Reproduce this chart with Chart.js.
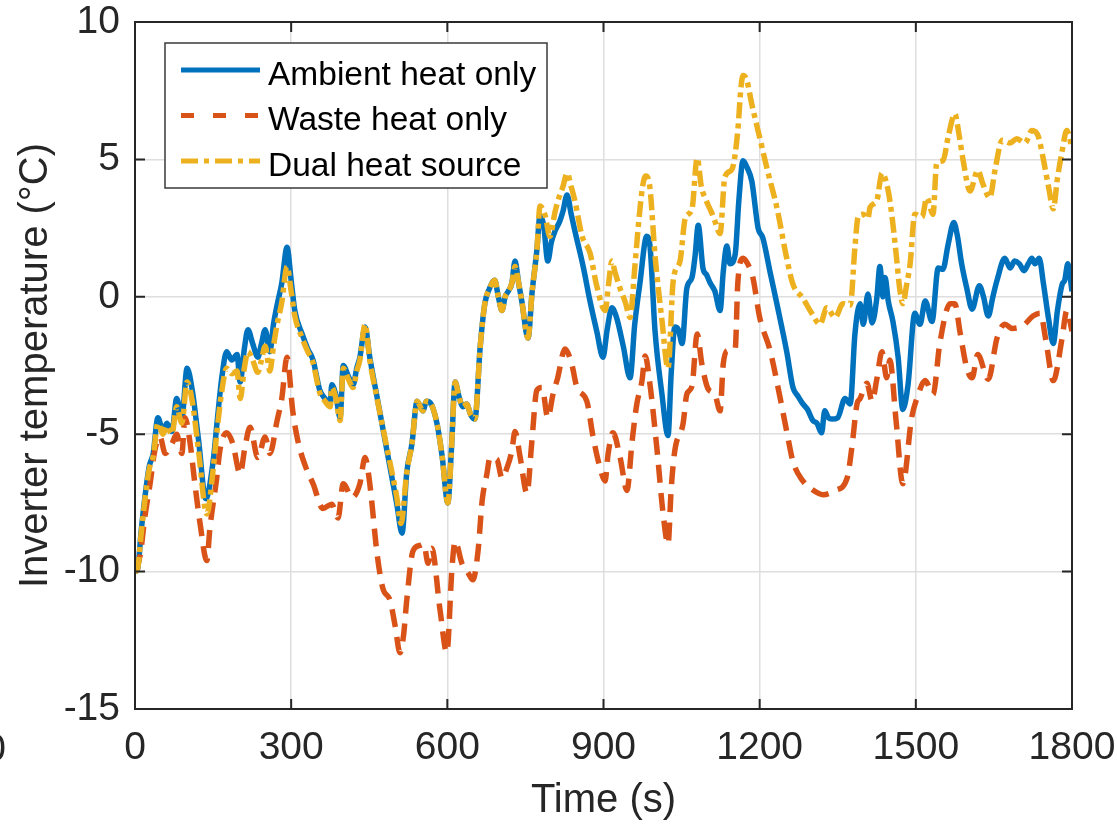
<!DOCTYPE html>
<html>
<head>
<meta charset="utf-8">
<script src="https://cdn.jsdelivr.net/npm/chart.js@4.4.1/dist/chart.umd.min.js"></script>
<style>
  html, body { margin: 0; padding: 0; background: #ffffff; }
  #wrap { width: 1117px; height: 827px; position: relative; }
</style>
</head>
<body>
<div id="wrap"><canvas id="c" width="1117" height="827"></canvas></div>
<script>
// ---- Series data: time (s) and inverter temperature (°C) ----
const ambientTime = [0,5,12,19,27,35,44,54,61,71,80,90,100,110,122,136,150,158,167,176,186,196,202,210,217,226,236,243,250,259,266,273,282,292,300,307,321,332,342,355,365,375,378,386,394,400,410,419,426,432,442,451,465,484,503,513,522,532,542,553,560,567,580,590,601,608,615,622,630,637,645,653,663,672,681,691,698,705,711,717,724,730,737,743,755,763,772,778,785,793,800,807,816,822,830,838,845,861,874,887,899,907,916,925,938,951,960,970,983,989,999,1012,1024,1030,1037,1044,1051,1060,1070,1076,1082,1091,1098,1105,1114,1124,1130,1137,1143,1153,1160,1168,1176,1185,1197,1206,1220,1233,1252,1264,1273,1283,1292,1302,1310,1319,1325,1332,1339,1350,1364,1374,1383,1393,1399,1408,1416,1425,1431,1437,1441,1447,1456,1466,1475,1485,1498,1508,1518,1531,1543,1552,1562,1573,1580,1588,1598,1608,1622,1630,1639,1648,1656,1671,1681,1690,1699,1708,1716,1723,1729,1737,1745,1755,1764,1772,1781,1786,1792,1800];
const ambientTemp = [-10.0,-9.9,-8.5,-7.3,-6.2,-5.7,-4.4,-4.9,-4.6,-4.9,-3.7,-4.4,-2.6,-3.4,-5.2,-7.35,-6.0,-4.5,-2.9,-2.0,-2.3,-2.1,-3.1,-1.9,-1.2,-1.7,-2.2,-1.7,-1.2,-2.0,-1.0,-0.3,0.5,1.8,0.6,-0.5,-1.35,-1.9,-2.3,-3.4,-3.7,-3.9,-3.2,-3.6,-4.4,-2.5,-2.9,-3.2,-2.6,-2.2,-1.1,-2.2,-3.65,-5.6,-7.55,-8.6,-6.4,-5.35,-3.8,-4.15,-3.8,-3.85,-4.6,-5.8,-7.5,-5.5,-3.1,-3.6,-4.0,-3.9,-4.3,-4.45,-1.85,-0.25,0.3,0.6,0.0,-0.5,0.0,0.2,0.5,1.3,0.5,-0.15,-1.5,0.2,1.7,2.95,2.6,1.3,2.0,2.4,2.75,3.1,3.7,3.0,2.4,1.1,-0.15,-1.25,-2.2,-1.2,-0.4,-0.75,-1.8,-2.95,-1.0,0.5,2.2,1.9,-1.25,-3.5,-5.05,-2.8,-1.1,-1.2,-1.7,0.3,0.7,1.5,2.6,1.05,0.8,0.5,0.2,-0.5,0.9,1.85,1.2,1.55,3.5,4.95,4.7,4.2,2.5,2.15,0.9,-0.25,-2.0,-3.3,-3.6,-3.9,-4.1,-4.5,-4.6,-4.95,-4.15,-4.4,-4.45,-4.4,-3.7,-3.9,-1.35,-0.25,-1.0,0.1,-0.95,-0.05,1.1,0.0,0.7,-0.15,-0.9,-2.2,-4.1,-3.2,-0.6,-1.0,-0.15,-0.9,1.05,1.0,1.9,2.7,2.2,1.2,0.3,-0.45,0.4,0.0,-0.7,0.0,0.6,1.4,1.05,1.3,1.2,0.95,1.2,1.4,1.2,1.4,0.5,-0.8,-1.7,-0.5,0.45,0.6,1.2,0.2];

const wasteTime = [0,10,19,29,38,48,58,71,80,90,96,106,115,125,138,144,157,163,176,188,202,211,221,236,250,259,273,282,292,303,313,330,342,361,378,390,400,417,432,442,451,465,476,490,500,509,516,522,534,547,555,563,570,586,599,609,615,628,640,649,659,667,676,682,695,705,715,724,730,740,753,762,772,782,793,803,812,826,839,849,868,880,893,903,909,918,932,945,955,964,974,980,989,1003,1014,1024,1030,1037,1053,1060,1070,1080,1089,1101,1114,1124,1130,1139,1153,1158,1168,1177,1187,1200,1220,1239,1252,1264,1283,1300,1322,1345,1368,1377,1387,1393,1406,1416,1425,1435,1444,1450,1462,1475,1492,1502,1518,1533,1546,1566,1575,1585,1598,1608,1619,1639,1656,1671,1685,1706,1725,1739,1750,1764,1781,1790,1800];
const wasteTemp = [-10.0,-9.4,-8.0,-6.8,-5.6,-5.1,-5.7,-5.35,-5.0,-5.7,-4.4,-5.35,-6.8,-8.25,-9.6,-8.4,-6.6,-5.6,-4.95,-5.35,-6.45,-5.5,-4.75,-5.85,-5.1,-5.7,-4.5,-3.7,-2.2,-4.15,-5.25,-6.3,-6.8,-7.7,-7.55,-8.05,-6.8,-7.3,-6.8,-5.85,-6.8,-9.35,-10.6,-11.05,-12.0,-12.95,-12.3,-11.05,-9.25,-9.05,-9.0,-9.7,-9.15,-11.4,-12.95,-9.85,-8.9,-9.7,-10.05,-10.3,-9.25,-7.4,-6.45,-5.85,-5.9,-6.6,-6.2,-5.6,-4.9,-5.85,-7.15,-5.35,-3.4,-3.3,-4.4,-3.55,-2.95,-1.9,-2.45,-3.3,-3.8,-5.1,-6.2,-6.7,-5.7,-4.95,-5.85,-7.05,-5.25,-3.9,-3.05,-2.15,-3.15,-5.6,-7.8,-9.0,-7.0,-5.6,-4.6,-3.55,-3.25,-1.35,-2.45,-3.35,-3.55,-4.15,-2.45,-1.95,-1.9,0.5,1.4,1.2,0.7,-0.75,-1.95,-3.65,-4.9,-6.0,-6.7,-7.0,-7.2,-7.05,-6.6,-5.5,-3.9,-3.7,-3.15,-3.8,-3.0,-2.0,-2.95,-2.3,-4.5,-6.8,-4.4,-3.7,-3.05,-3.55,-1.7,-0.25,-0.25,-1.3,-2.6,-2.95,-2.1,-3.0,-1.5,-1.0,-1.15,-1.05,-0.7,-0.6,-1.6,-3.05,-1.5,-0.5,-1.25];

const dualTime = [0,5,12,19,27,35,44,54,61,71,80,90,100,110,122,138,150,158,167,176,186,196,202,210,217,226,236,243,250,259,266,273,282,292,300,307,321,332,342,355,365,375,378,386,394,400,410,419,426,432,442,451,465,484,503,511,522,532,542,553,560,567,580,590,601,608,615,622,630,637,645,653,663,672,681,691,698,705,711,717,724,730,737,743,755,763,772,778,788,797,807,816,822,830,838,845,859,874,887,903,910,916,922,932,942,951,960,968,975,981,989,999,1012,1024,1034,1047,1057,1070,1080,1088,1095,1108,1114,1124,1133,1147,1158,1164,1168,1175,1185,1200,1215,1233,1252,1264,1283,1300,1316,1329,1345,1360,1374,1383,1389,1399,1408,1412,1425,1435,1447,1455,1463,1469,1475,1482,1489,1498,1512,1521,1533,1540,1552,1563,1575,1583,1591,1604,1619,1629,1642,1652,1666,1681,1694,1710,1723,1735,1745,1755,1764,1772,1781,1790,1800];
const dualTemp = [-10.0,-9.9,-8.6,-7.4,-6.3,-5.8,-4.6,-5.0,-4.7,-5.0,-4.0,-4.6,-3.1,-3.8,-5.6,-7.9,-6.3,-4.8,-3.4,-2.6,-2.8,-2.7,-3.7,-2.6,-2.0,-2.3,-2.75,-2.3,-1.8,-2.7,-1.8,-1.0,-0.2,1.1,0.2,-0.7,-1.5,-2.0,-2.4,-3.5,-3.8,-4.0,-3.3,-3.7,-4.5,-2.6,-3.0,-3.3,-2.7,-2.3,-1.0,-2.3,-3.7,-5.5,-7.3,-8.25,-6.4,-5.35,-3.8,-4.15,-3.8,-3.85,-4.6,-5.8,-7.5,-5.5,-3.1,-3.6,-4.0,-3.9,-4.3,-4.45,-1.85,-0.25,0.3,0.6,0.0,-0.5,0.0,0.2,0.5,1.1,0.5,-0.15,-1.5,0.2,1.7,3.3,2.95,2.2,3.1,3.7,4.0,4.5,4.0,3.5,2.2,1.6,0.4,-0.5,0.5,1.3,0.9,0.3,-0.2,-0.75,1.05,2.8,4.0,4.4,4.0,1.5,-0.8,-2.6,0.6,1.3,2.85,3.2,5.05,4.0,3.6,3.05,2.75,2.3,4.35,4.65,6.05,7.6,8.05,7.9,7.0,5.8,4.6,3.25,1.4,0.45,-0.05,-0.6,-1.0,-0.4,-0.75,-0.25,-0.3,1.8,2.9,3.0,2.85,3.25,3.5,4.5,3.85,2.8,1.4,0.3,-0.25,0.4,1.2,3.0,2.9,3.6,3.0,4.85,4.95,5.9,6.65,5.9,4.95,3.85,4.6,4.1,3.6,4.6,5.7,5.6,5.75,5.6,6.05,5.85,5.0,4.0,3.2,4.3,5.3,6.05,5.4];

// ---- Axis ticks and labels ----
const xTicks = [0, 300, 600, 900, 1200, 1500, 1800];
const yTicks = [-15, -10, -5, 0, 5, 10];
const seriesNames = ['Ambient heat only', 'Waste heat only', 'Dual heat source'];
const xTitle = 'Time (s)';
const yTitle = 'Inverter temperature (°C)';

const FONT = "'Liberation Sans', Arial, Helvetica, sans-serif";
const AXIS_COLOR = '#262626';
const seriesColors = ['#0072BD', '#D95319', '#EDB120'];
const plotDash = [[], [18, 10], [16, 5, 5, 5]];
const legendDash = [[], [13, 19], [17, 6, 5, 6]];

const toPoints = (ts, vs) => ts.map((t, i) => ({ x: t, y: vs[i] }));

// Box around the plot area with inward tick marks on all four sides,
// an in-axes legend and a stray clipped tick label at the lower left.
const framePlugin = {
  id: 'frame',
  afterDraw(chart) {
    const { ctx, chartArea: a, scales } = chart;
    const xs = scales.x, ys = scales.y;
    ctx.save();
    ctx.strokeStyle = AXIS_COLOR;
    ctx.lineWidth = 2;
    ctx.lineCap = 'butt';
    ctx.setLineDash([]);
    ctx.strokeRect(a.left, a.top, a.right - a.left, a.bottom - a.top);
    const tl = 10;
    ctx.beginPath();
    xTicks.forEach(v => {
      const px = xs.getPixelForValue(v);
      ctx.moveTo(px, a.bottom); ctx.lineTo(px, a.bottom - tl);
      ctx.moveTo(px, a.top); ctx.lineTo(px, a.top + tl);
    });
    yTicks.forEach(v => {
      const py = ys.getPixelForValue(v);
      ctx.moveTo(a.left, py); ctx.lineTo(a.left + tl, py);
      ctx.moveTo(a.right, py); ctx.lineTo(a.right - tl, py);
    });
    ctx.stroke();

    // stray tick text clipped at the left canvas edge
    ctx.fillStyle = AXIS_COLOR;
    ctx.font = `39px ${FONT}`;
    ctx.textAlign = 'right';
    ctx.textBaseline = 'alphabetic';
    ctx.fillText('-300', 6, 761);

    // legend
    const bx = 165, by = 43, bw = 382, bh = 145;
    ctx.fillStyle = '#ffffff';
    ctx.fillRect(bx, by, bw, bh);
    ctx.strokeStyle = '#3a3a3a';
    ctx.lineWidth = 1.5;
    ctx.strokeRect(bx, by, bw, bh);
    ctx.font = `33.5px ${FONT}`;
    ctx.textAlign = 'left';
    chart.data.datasets.forEach((ds, i) => {
      const cy = 70 + i * 45.5;
      ctx.strokeStyle = ds.borderColor;
      ctx.lineWidth = 5;
      ctx.setLineDash(legendDash[i]);
      ctx.beginPath();
      ctx.moveTo(181, cy);
      ctx.lineTo(260, cy);
      ctx.stroke();
      ctx.setLineDash([]);
      ctx.fillStyle = '#000000';
      ctx.fillText(ds.label, 268, cy + 14.5);
    });
    ctx.restore();
  }
};

const ds = (i, ts, vs, order) => ({
  label: seriesNames[i],
  data: toPoints(ts, vs),
  borderColor: seriesColors[i],
  backgroundColor: seriesColors[i],
  borderWidth: 5.5,
  borderDash: plotDash[i],
  borderCapStyle: 'butt',
  borderJoinStyle: 'round',
  pointRadius: 0,
  pointHoverRadius: 0,
  cubicInterpolationMode: 'monotone',
  fill: false,
  order: order
});

new Chart(document.getElementById('c'), {
  type: 'line',
  data: {
    datasets: [
      ds(0, ambientTime, ambientTemp, 3),
      ds(1, wasteTime, wasteTemp, 2),
      ds(2, dualTime, dualTemp, 1)
    ]
  },
  options: {
    responsive: false,
    animation: false,
    devicePixelRatio: 1,
    layout: { padding: { top: 22, right: 45, left: 0, bottom: 0 } },
    plugins: { legend: { display: false }, tooltip: { enabled: false } },
    scales: {
      x: {
        type: 'linear',
        min: 0, max: 1800,
        afterBuildTicks: s => { s.ticks = xTicks.map(v => ({ value: v })); },
        afterFit: s => { s.height = 118; s.paddingLeft = 0; s.paddingRight = 0; },
        ticks: {
          autoSkip: false, maxRotation: 0, padding: 16,
          color: AXIS_COLOR, font: { family: FONT, size: 39 },
          callback: v => String(v)
        },
        grid: { color: '#dedede', lineWidth: 1.5, drawTicks: false },
        border: { display: false },
        title: {
          display: true, text: xTitle, color: AXIS_COLOR,
          font: { family: FONT, size: 40 }, padding: { top: 0, bottom: 2 }
        }
      },
      y: {
        type: 'linear',
        min: -15, max: 10,
        afterBuildTicks: s => { s.ticks = yTicks.map(v => ({ value: v })); },
        afterFit: s => { s.width = 135; s.paddingTop = 0; s.paddingBottom = 0; },
        ticks: {
          autoSkip: false, padding: 15,
          color: AXIS_COLOR, font: { family: FONT, size: 39 },
          callback: v => String(v)
        },
        grid: { color: '#dedede', lineWidth: 1.5, drawTicks: false },
        border: { display: false },
        title: {
          display: true, text: yTitle, color: AXIS_COLOR,
          font: { family: FONT, size: 40 }, padding: { top: 12, bottom: 0 }
        }
      }
    }
  },
  plugins: [framePlugin]
});
</script>
</body>
</html>
